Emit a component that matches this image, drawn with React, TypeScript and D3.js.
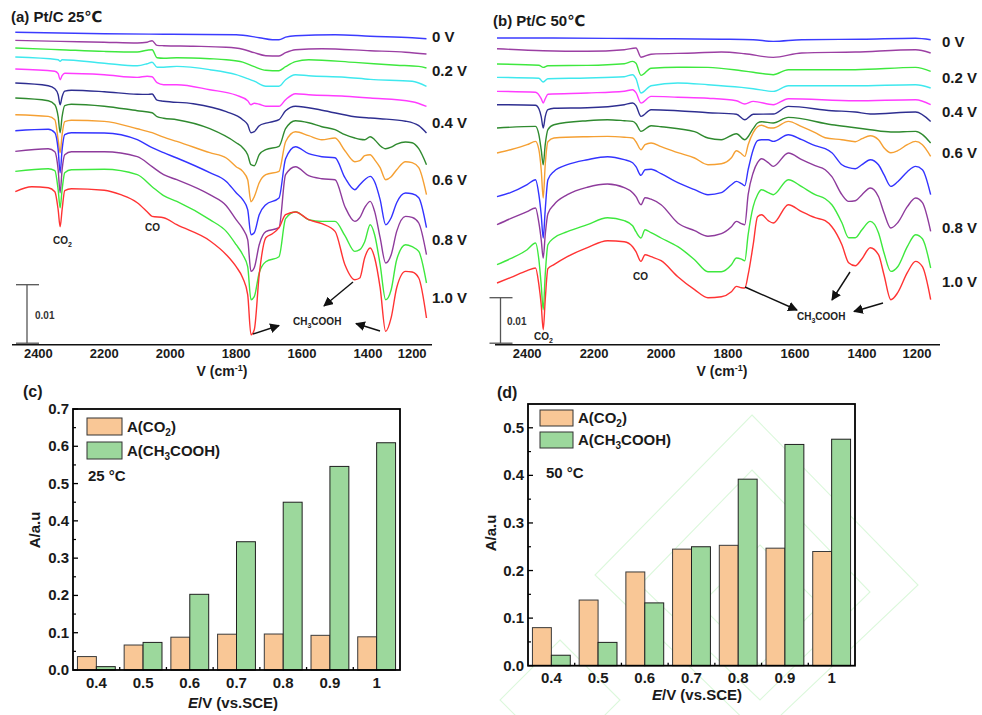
import React from 'react';
import * as d3 from 'd3';

// ---------------- DATA ----------------
// Spectra: [wavenumber (cm-1), absorbance offset in units of 1/6000 a.u. for (a); 1/4700 a.u. for (b)]
const curveColors = ['#3b3bff', '#9b3fa3', '#3ee83e', '#3ee8ee', '#ff3cff', '#2e2e90', '#2f8a2f', '#f5a033', '#3333ff', '#8e3b9c', '#3ee83e', '#ff3333'];
const voltageLabels = ['0 V', '0.2 V', '0.4 V', '0.6 V', '0.8 V', '1.0 V'];
const wavenumberTicks = [2400, 2200, 2000, 1800, 1600, 1400, 1200];

const spectra25: [number, number][][] = [
  [[2470,312.5],[2200,311],[2020,310.5],[1800,310],[1730,307],[1690,305],[1670,305],[1650,307.5],[1620,309],[1500,310],[1390,308.5],[1200,307],[1135,306]],
  [[2470,304.3],[2334,303.3],[2200,302.5],[2100,301.7],[2070,302.5],[2055,304],[2040,299.3],[2020,299],[1930,298.5],[1830,297.5],[1780,295.5],[1745,292],[1710,289],[1670,288.7],[1650,292],[1620,295],[1540,296],[1390,294],[1230,292.5],[1135,290.7]],
  [[2470,296.7],[2334,295],[2200,293.3],[2100,292.7],[2070,294.5],[2055,295],[2040,287],[2020,286.5],[1980,287],[1880,286],[1830,285],[1780,282.5],[1745,278],[1710,274.5],[1670,274],[1650,278],[1620,283],[1580,285],[1440,282.3],[1270,279.5],[1170,278.3],[1135,276.7]],
  [[2470,287.7],[2340,285],[2334,283.5],[2328,285],[2200,281.5],[2100,279],[2070,281],[2055,282.5],[2040,277.5],[2020,277.5],[1980,278.3],[1880,275],[1800,270],[1765,266],[1745,263.5],[1710,258.5],[1670,258.5],[1650,265],[1620,270],[1580,269],[1470,267.5],[1390,265.3],[1200,263.5],[1135,258.3]],
  [[2470,275.7],[2350,273.5],[2340,271],[2334,265],[2328,269],[2320,271.5],[2200,270],[2100,267.3],[2070,268.5],[2055,268],[2040,262],[2020,260],[1980,260],[1880,255],[1800,249.5],[1765,244],[1755,240],[1745,241.5],[1730,240.5],[1710,238.5],[1670,238.5],[1650,245],[1620,251],[1580,250],[1470,248.5],[1390,246.7],[1200,243],[1135,238.3]],
  [[2470,261.7],[2370,259],[2350,256],[2340,250],[2334,240],[2328,248],[2320,253.5],[2300,254.5],[2200,253],[2100,250.5],[2070,250.3],[2055,250.7],[2040,244.5],[2020,243.5],[1930,241],[1830,233],[1780,225],[1765,220],[1755,212],[1745,213],[1730,219],[1710,221.5],[1690,223],[1670,225],[1650,234],[1620,238.5],[1540,234.5],[1440,228],[1390,226.7],[1345,226],[1230,223.5],[1170,219],[1135,211.7]],
  [[2470,246.7],[2370,244],[2350,240],[2340,228],[2334,212],[2328,228],[2320,239],[2300,240.5],[2200,238.5],[2100,234],[2055,232],[2040,228],[2020,226.5],[1980,225],[1880,216],[1800,202],[1780,197],[1765,190],[1755,180],[1745,179],[1730,190],[1710,195],[1670,198.3],[1650,216],[1620,224],[1580,222],[1540,218],[1500,215],[1470,210],[1440,206.7],[1425,205.5],[1410,205],[1390,208],[1370,205],[1345,199],[1320,196],[1295,197.5],[1270,200.5],[1230,202.7],[1200,202],[1170,196],[1135,180]],
  [[2470,230],[2370,228.3],[2350,225],[2340,205],[2334,192],[2328,210],[2320,223],[2300,224.5],[2200,223.3],[2100,216],[2055,212],[2020,207.5],[1980,203.3],[1880,192],[1830,186.7],[1800,178],[1780,173.3],[1765,165],[1755,143],[1745,148],[1730,162],[1710,170],[1670,173.3],[1650,203],[1620,213],[1580,209],[1540,205],[1500,206.7],[1470,194],[1440,183],[1425,184],[1410,189],[1390,190],[1370,185],[1345,177],[1320,165],[1295,168],[1270,175],[1230,183],[1200,182],[1170,177],[1135,150]],
  [[2470,214],[2370,215.5],[2350,212],[2340,195],[2334,172],[2328,195],[2320,210],[2300,212],[2200,211.7],[2100,205],[2055,197],[2020,192],[1980,186.7],[1880,172],[1830,163.3],[1800,152],[1780,145],[1765,135],[1755,110],[1745,112],[1730,130],[1710,140],[1670,146.7],[1650,186],[1620,198],[1580,191],[1540,188],[1500,187],[1470,167],[1440,155],[1425,160],[1410,165],[1390,168.3],[1370,163],[1345,145],[1320,120],[1295,127],[1270,142],[1230,151.7],[1200,151],[1170,147],[1135,117]],
  [[2470,193.3],[2370,196],[2350,193],[2340,175],[2334,152],[2328,175],[2320,190],[2300,193],[2200,193],[2100,188],[2055,178],[2020,170],[1980,165],[1880,150],[1830,139],[1800,125],[1780,116],[1765,105],[1755,73.3],[1745,77],[1730,100],[1710,113],[1670,117],[1650,170],[1620,178],[1580,169],[1540,166],[1500,165],[1470,138],[1440,123.3],[1425,127],[1410,137],[1390,143.3],[1370,133.3],[1345,107],[1320,81.7],[1295,90],[1270,113.3],[1230,128.3],[1200,127.3],[1170,121.7],[1135,90]],
  [[2470,173.3],[2370,176],[2350,174],[2340,155],[2334,137],[2328,155],[2320,172],[2300,175],[2200,175.5],[2100,170],[2055,158],[2020,149],[1980,143.3],[1880,125],[1830,113.3],[1800,100],[1780,90],[1765,78],[1755,45],[1745,48],[1730,72],[1710,83],[1670,88],[1650,126],[1620,133],[1580,125],[1540,123.3],[1500,123.3],[1470,109],[1440,93.3],[1425,95],[1410,103],[1390,120],[1370,110],[1345,80],[1320,45],[1295,55],[1270,85],[1230,100],[1200,98],[1170,93.3],[1135,61.7]],
  [[2470,153],[2420,158],[2370,157],[2350,153],[2340,135],[2334,118],[2328,135],[2320,154],[2300,156],[2200,154.5],[2150,150],[2100,142],[2070,133],[2055,128.3],[2020,127],[1980,120],[1880,104],[1830,90],[1800,78],[1780,66.7],[1765,50],[1755,10],[1745,15],[1730,70],[1710,107],[1690,111],[1670,117],[1650,130],[1620,132.7],[1580,125],[1540,121],[1500,113.3],[1470,80],[1440,65],[1425,66.7],[1410,87],[1390,96.7],[1370,87],[1345,57],[1320,13.3],[1295,27],[1270,57],[1230,73.3],[1200,72.7],[1170,66.7],[1135,26.7]],
];

const spectra50: [number, number][][] = [
  [[2490,306.7],[2352,306.7],[2160,306.3],[2000,306],[1820,305.5],[1725,305],[1665,303.3],[1580,305],[1400,305.5],[1205,306.5],[1150,305]],
  [[2490,296],[2352,294],[2220,293.5],[2110,295],[2075,296.7],[2060,287.5],[2030,290.5],[1900,291.7],[1820,292.7],[1750,291],[1665,287.3],[1580,291.7],[1420,292.7],[1205,295],[1150,291.7]],
  [[2490,280.7],[2365,279.5],[2352,277.3],[2338,279],[2220,279.3],[2110,281],[2085,283.3],[2075,281.5],[2060,269.3],[2030,276.5],[1950,277.5],[1860,277.3],[1760,274],[1725,272.5],[1665,270],[1620,275],[1420,275],[1205,277.3],[1150,273.3]],
  [[2490,267.3],[2365,266.5],[2352,262.7],[2338,266],[2220,266.7],[2110,268],[2085,270],[2075,266],[2060,251.7],[2030,259],[1950,261.7],[1860,260],[1760,257.3],[1725,256],[1665,253.3],[1620,259],[1420,259],[1205,260],[1150,256.7]],
  [[2490,253.3],[2375,252.5],[2358,246],[2352,241.7],[2346,246],[2338,250.5],[2220,251.7],[2110,253.5],[2085,255],[2075,252],[2060,241.7],[2030,248.3],[1950,247.5],[1860,246.5],[1775,244],[1750,240.7],[1725,243.3],[1665,240],[1620,246],[1420,244],[1205,245],[1150,240]],
  [[2490,240],[2375,239.5],[2365,236],[2358,228],[2352,216.7],[2346,228],[2338,235],[2320,236.5],[2220,237],[2110,240],[2085,241.7],[2075,239],[2060,228.3],[2030,235],[1950,234],[1860,232],[1775,230.5],[1750,225],[1725,230.5],[1665,230.7],[1620,238.3],[1490,234],[1420,232.7],[1370,230.7],[1205,232.7],[1150,223.3]],
  [[2490,216.7],[2375,218.3],[2365,210],[2358,195],[2352,180],[2346,200],[2338,215],[2320,220],[2220,224],[2160,225],[2110,224],[2085,223.3],[2075,221],[2060,213.3],[2030,219],[2000,218],[1900,213],[1860,206.7],[1820,205],[1775,211],[1750,205],[1725,216],[1712,221.7],[1700,223],[1665,221.7],[1620,227.3],[1490,220],[1420,217],[1370,215],[1295,212.7],[1205,213.3],[1150,201.7]],
  [[2490,191.7],[2450,195],[2400,200],[2375,203.3],[2365,195],[2358,175],[2352,146.7],[2346,180],[2338,203],[2320,206.7],[2220,208],[2160,208.3],[2110,207.5],[2085,206.7],[2075,203],[2060,195],[2048,200],[2030,201.7],[2000,198],[1950,192],[1900,186.7],[1860,180],[1820,181],[1790,187],[1775,194],[1760,191],[1750,188.3],[1740,200],[1725,212],[1712,218],[1700,219.5],[1680,217],[1665,216.7],[1620,223.3],[1580,218],[1540,212],[1510,207],[1460,205],[1420,203],[1400,206],[1370,209],[1340,205],[1320,197],[1295,192],[1270,194],[1235,200],[1205,203.3],[1180,200],[1150,188.3]],
  [[2490,148],[2450,152],[2400,160],[2375,165],[2365,150],[2358,130],[2352,106.7],[2346,135],[2338,165],[2320,173.3],[2280,180],[2220,185],[2160,188],[2110,185],[2085,182],[2075,178],[2060,169.3],[2048,175],[2030,175.5],[2000,171],[1950,162],[1900,155],[1860,150],[1820,152],[1790,160],[1775,163.3],[1760,161],[1750,159],[1740,175],[1725,195],[1712,204],[1700,205],[1680,205],[1665,203.3],[1620,210],[1580,205],[1540,199],[1510,196],[1490,192],[1460,180],[1440,177],[1420,176],[1400,180],[1370,185],[1340,180],[1320,170],[1295,158.3],[1270,163],[1235,173],[1205,178.3],[1180,175],[1150,150]],
  [[2490,120],[2450,126],[2400,133],[2375,136.7],[2365,122],[2358,105],[2352,86.7],[2346,110],[2338,131],[2320,140],[2280,150],[2220,157.5],[2160,160.7],[2110,157],[2085,152],[2075,148],[2060,140],[2048,147],[2030,145.5],[2000,140],[1950,121.7],[1900,114],[1860,108.5],[1820,111],[1790,118],[1775,123.3],[1760,121],[1750,120],[1740,150],[1725,172],[1712,182],[1700,186],[1680,182],[1665,178.3],[1620,191.7],[1580,185],[1540,179],[1510,175],[1490,168],[1460,150],[1440,143.3],[1420,144],[1400,150],[1370,156.7],[1340,148],[1320,132],[1295,116.7],[1270,122],[1235,138],[1205,146.7],[1180,142],[1150,113.3]],
  [[2490,80],[2450,86],[2400,95],[2375,101.7],[2365,85],[2358,60],[2352,35],[2346,70],[2338,100],[2320,106.7],[2280,113],[2220,120],[2160,127],[2110,124],[2085,119],[2075,113],[2060,106.7],[2048,115],[2030,112],[2000,106.7],[1950,98],[1900,85],[1860,73],[1820,73],[1790,80],[1775,86.7],[1760,85.5],[1750,84],[1740,110],[1725,138],[1712,150],[1700,155],[1680,152],[1665,150],[1620,165],[1580,158],[1540,150],[1510,146],[1490,140],[1460,122],[1440,107],[1420,107],[1400,115],[1370,123.3],[1340,112],[1320,92],[1295,73.3],[1270,78],[1235,98],[1205,110],[1180,106],[1150,76.7]],
  [[2490,61.7],[2450,67],[2400,74],[2375,76.7],[2365,60],[2358,40],[2352,15],[2346,45],[2338,76],[2320,80],[2280,88],[2220,97],[2160,104],[2110,103],[2085,98],[2075,93],[2060,83.3],[2048,90],[2030,88],[2000,84],[1950,68],[1900,55],[1860,47],[1820,48],[1790,53],[1775,58.3],[1760,57],[1750,56.7],[1740,70],[1725,100],[1712,128],[1700,130],[1680,124],[1665,121.7],[1620,140],[1580,133],[1540,127],[1510,124],[1490,118],[1460,100],[1440,82],[1420,79],[1400,86],[1370,97],[1340,90],[1320,70],[1295,45],[1270,52],[1235,72],[1205,83.3],[1180,78],[1150,45]],
];

// Bar charts
const potentials = ['0.4', '0.5', '0.6', '0.7', '0.8', '0.9', '1'];
const seriesNames = ['CO2', 'CH3COOH'];
const co2At25 = [0.036, 0.067, 0.088, 0.096, 0.0965, 0.093, 0.089];
const acidAt25 = [0.009, 0.074, 0.203, 0.344, 0.450, 0.546, 0.6095];
const co2At50 = [0.080, 0.138, 0.197, 0.245, 0.253, 0.247, 0.240];
const acidAt50 = [0.022, 0.049, 0.132, 0.250, 0.392, 0.465, 0.476];
const yTicks25 = [0, 0.1, 0.2, 0.3, 0.4, 0.5, 0.6, 0.7];
const yTicks50 = [0, 0.1, 0.2, 0.3, 0.4, 0.5];

// ---------------- STYLE ----------------
const FONT = 'Arial, "Liberation Sans", "DejaVu Sans", sans-serif';
const barFill = ['#F9C796', '#9CD89C'];
const TXT = '#1a1a1a';

type SpecProps = {
  id: string;
  title: string;
  data: [number, number][][];
  xDomain: number[];
  xRange: number[];
  yMax: number;
  labelYs: number[];
  labelX: number;
  scaleBar: { x: number; units: number; textX: number };
  notes: React.ReactNode;
  titleX: number;
  titleY: number;
  axisTitleX: number;
};

const AXIS_Y = 344.7;

function SpectraPanel(p: SpecProps) {
  const x = d3.scaleLinear().domain(p.xDomain).range(p.xRange);
  const y = d3.scaleLinear().domain([0, p.yMax]).range([AXIS_Y, AXIS_Y - p.yMax]);
  const line = d3.line<[number, number]>().x(d => x(d[0])).y(d => y(d[1])).curve(d3.curveMonotoneX);
  const x0 = p.xRange[0];
  const x1 = p.xRange[p.xRange.length - 1];
  return (
    <g>
      <text x={p.titleX} y={p.titleY} fontFamily={FONT} fontWeight="bold" fontSize={15} fill={TXT}>{p.title}</text>
      {p.data.map((c, i) => (
        <path key={i} d={line(c) || ''} fill="none" stroke={curveColors[i]} strokeWidth={1.4} strokeLinejoin="round" />
      ))}
      {voltageLabels.map((l, i) => (
        <text key={l} x={p.labelX} y={p.labelYs[i]} fontFamily={FONT} fontWeight="bold" fontSize={15} fill={TXT}>{l}</text>
      ))}
      <line x1={x0} x2={x1} y1={AXIS_Y} y2={AXIS_Y} stroke="#111" strokeWidth={1.6} />
      {wavenumberTicks.map(t => (
        <text key={t} x={x(t)} y={358} textAnchor="middle" fontFamily={FONT} fontWeight="bold" fontSize={13} fill={TXT}>{t}</text>
      ))}
      <text x={p.axisTitleX} y={376} textAnchor="middle" fontFamily={FONT} fontWeight="bold" fontSize={14} fill={TXT}>
        V (cm<tspan fontSize={9} dy={-5}>-1</tspan><tspan dy={5}>)</tspan>
      </text>
      {/* scale bar */}
      <g stroke="#555" strokeWidth={1.3}>
        <line x1={p.scaleBar.x} x2={p.scaleBar.x} y1={y(0) - 1.5} y2={y(p.scaleBar.units)} />
        <line x1={p.scaleBar.x - 11} x2={p.scaleBar.x + 12} y1={y(p.scaleBar.units)} y2={y(p.scaleBar.units)} />
        <line x1={p.scaleBar.x - 11} x2={p.scaleBar.x + 12} y1={y(0) - 1.5} y2={y(0) - 1.5} />
      </g>
      <text x={p.scaleBar.textX} y={y(p.scaleBar.units / 2) + 4} fontFamily={FONT} fontWeight="bold" fontSize={10} fill="#333">0.01</text>
      {p.notes}
    </g>
  );
}

function Arrow({ x1, y1, x2, y2 }: { x1: number; y1: number; x2: number; y2: number }) {
  return <line x1={x1} y1={y1} x2={x2} y2={y2} stroke="#111" strokeWidth={1.4} markerEnd="url(#ah)" />;
}

function NoteText({ x, y, main, sub, rest }: { x: number; y: number; main: string; sub?: string; rest?: string }) {
  return (
    <text x={x} y={y} fontFamily={FONT} fontWeight="bold" fontSize={10} fill="#222">
      {main}
      {sub && <tspan fontSize={7} dy={3}>{sub}</tspan>}
      {rest && <tspan dy={-3}>{rest}</tspan>}
    </text>
  );
}

type BarProps = {
  label: string;
  left: number; right: number; top: number; bottom: number;
  yMax: number; ticks: number[];
  co2: number[]; acid: number[];
  temp: string; tempX: number; tempY: number;
  legendX: number; legendY: number; legendGap: number; legendW: number; legendH: number;
  labelX: number; labelY: number;
  yTitleX: number; yTitleY: number;
  xTitleX: number; xTitleY: number;
  xTickY: number;
};

function BarPanel(p: BarProps) {
  const x = d3.scaleBand<string>().domain(potentials).range([p.left, p.right]).paddingInner(0.19).paddingOuter(0.095);
  const inner = d3.scaleBand<string>().domain(seriesNames).range([0, x.bandwidth()]);
  const y = d3.scaleLinear().domain([0, p.yMax]).range([p.bottom, p.top]);
  const step = x.step();
  const minor = d3.range(0.05, p.yMax, 0.1);
  return (
    <g fontFamily={FONT}>
      <text x={p.labelX} y={p.labelY} fontWeight="bold" fontSize={16} fill={TXT}>{p.label}</text>
      {potentials.map((c, i) => (
        <g key={c}>
          <rect x={(x(c) as number) + (inner('CO2') as number)} y={y(p.co2[i])} width={inner.bandwidth()} height={y(0) - y(p.co2[i])} fill={barFill[0]} stroke="#3a3a3a" strokeWidth={1} />
          <rect x={(x(c) as number) + (inner('CH3COOH') as number)} y={y(p.acid[i])} width={inner.bandwidth()} height={y(0) - y(p.acid[i])} fill={barFill[1]} stroke="#1f1f1f" strokeWidth={1} />
        </g>
      ))}
      <rect x={p.left} y={p.top} width={p.right - p.left} height={p.bottom - p.top} fill="none" stroke="#000" strokeWidth={1.8} />
      {p.ticks.map(t => (
        <g key={t}>
          <line x1={p.left} x2={p.left + 5} y1={y(t)} y2={y(t)} stroke="#000" strokeWidth={1.3} />
          <text x={p.left - 4} y={y(t) + 5} textAnchor="end" fontWeight="bold" fontSize={15} fill={TXT}>{t.toFixed(1)}</text>
        </g>
      ))}
      {minor.map(t => (
        <line key={t} x1={p.left} x2={p.left + 3} y1={y(t)} y2={y(t)} stroke="#000" strokeWidth={1.2} />
      ))}
      {potentials.slice(1).map(c => (
        <line key={c} x1={(x(c) as number) - (step - x.bandwidth()) / 2} x2={(x(c) as number) - (step - x.bandwidth()) / 2} y1={p.bottom} y2={p.bottom - 3} stroke="#000" strokeWidth={1.3} />
      ))}
      {potentials.map(c => (
        <text key={c} x={(x(c) as number) + x.bandwidth() / 2} y={p.xTickY} textAnchor="middle" fontWeight="bold" fontSize={15} fill={TXT}>{c}</text>
      ))}
      <text transform={`translate(${p.yTitleX},${p.yTitleY}) rotate(-90)`} textAnchor="middle" fontWeight="bold" fontSize={15} fill={TXT}>A/a.u</text>
      <text x={p.xTitleX} y={p.xTitleY} textAnchor="middle" fontWeight="bold" fontSize={15} fill={TXT}>
        <tspan fontStyle="italic">E</tspan>/V (vs.SCE)
      </text>
      {/* legend */}
      {seriesNames.map((s, i) => (
        <g key={s}>
          <rect x={p.legendX} y={p.legendY + i * p.legendGap} width={p.legendW} height={p.legendH} fill={barFill[i]} stroke="#333" strokeWidth={1} />
          <text x={p.legendX + p.legendW + 5} y={p.legendY + i * p.legendGap + p.legendH - 3} fontWeight="bold" fontSize={15} fill={TXT}>
            {i === 0 ? <>A(CO<tspan fontSize={10} dy={4}>2</tspan><tspan dy={-4}>)</tspan></> : <>A(CH<tspan fontSize={10} dy={4}>3</tspan><tspan dy={-4}>COOH)</tspan></>}
          </text>
        </g>
      ))}
      <text x={p.tempX} y={p.tempY} fontWeight="bold" fontSize={15} fill={TXT}>{p.temp}</text>
    </g>
  );
}

export default function App() {
  const notesA = (
    <g>
      <NoteText x={53} y={244} main="CO" sub="2" />
      <NoteText x={145} y={231} main="CO" />
      <NoteText x={293} y={325} main="CH" sub="3" rest="COOH" />
      <Arrow x1={253} y1={334} x2={279} y2={325.5} />
      <Arrow x1={353} y1={282} x2={324} y2={306} />
      <Arrow x1={380} y1={331} x2={356} y2={323.5} />
    </g>
  );
  const notesB = (
    <g>
      <NoteText x={534} y={340} main="CO" sub="2" />
      <NoteText x={633} y={280} main="CO" />
      <NoteText x={797} y={320} main="CH" sub="3" rest="COOH" />
      <Arrow x1={745} y1={287} x2={797} y2={310} />
      <Arrow x1={850} y1={272} x2={832} y2={300} />
      <Arrow x1={883} y1={303} x2={854} y2={311.5} />
    </g>
  );
  return (
    <svg width={982} height={715} style={{ position: 'absolute', left: 0, top: 0, background: '#fff' }}>
      <defs>
        <marker id="ah" viewBox="0 0 10 10" refX="9" refY="5" markerWidth="7" markerHeight="7" orient="auto-start-reverse">
          <path d="M0,0 L10,5 L0,10 z" fill="#111" />
        </marker>
      </defs>
      <rect width={982} height={715} fill="#fff" />
      {/* faint watermark in (d) */}
      <g fill="none" stroke="#dcf8dc" strokeWidth={1.1}>
        <path d="M752,415 L918,585 L760,735 L595,575 Z" />
        <path d="M752,470 L870,592 L760,700 L640,585 Z" />
        <path d="M760,545 L820,605 L760,665 L700,605 Z" />
        <path d="M560,640 L620,700 L560,760 L500,700 Z" />
      </g>
      <SpectraPanel id="a" title="(a) Pt/C 25℃" data={spectra25}
        xDomain={[2480, 1400, 1110]} xRange={[12, 368, 432]} yMax={330}
        labelYs={[42, 76, 128, 185, 245, 303]} labelX={432}
        scaleBar={{ x: 27, units: 60, textX: 35 }} notes={notesA}
        titleX={11} titleY={22} axisTitleX={222} />
      <SpectraPanel id="b" title="(b) Pt/C 50℃" data={spectra50}
        xDomain={[2496, 1400, 1116]} xRange={[495, 862, 940]} yMax={330}
        labelYs={[47, 83, 117, 158, 233, 287]} labelX={942}
        scaleBar={{ x: 500.5, units: 47, textX: 507 }} notes={notesB}
        titleX={493} titleY={26} axisTitleX={722} />
      <BarPanel label="(c)" left={73} right={400} top={409} bottom={670} yMax={0.7} ticks={yTicks25}
        co2={co2At25} acid={acidAt25} temp="25 °C" tempX={88} tempY={481}
        legendX={87} legendY={418} legendGap={24} legendW={35} legendH={17}
        labelX={23} labelY={397} yTitleX={40} yTitleY={530} xTitleX={233} xTitleY={708} xTickY={688} />
      <BarPanel label="(d)" left={528} right={855} top={404} bottom={665.7} yMax={0.55} ticks={yTicks50}
        co2={co2At50} acid={acidAt50} temp="50 °C" tempX={546} tempY={478}
        legendX={540} legendY={410} legendGap={22} legendW={33} legendH={16}
        labelX={497} labelY={398} yTitleX={496} yTitleY={533} xTitleX={697} xTitleY={700} xTickY={683} />
    </svg>
  );
}
